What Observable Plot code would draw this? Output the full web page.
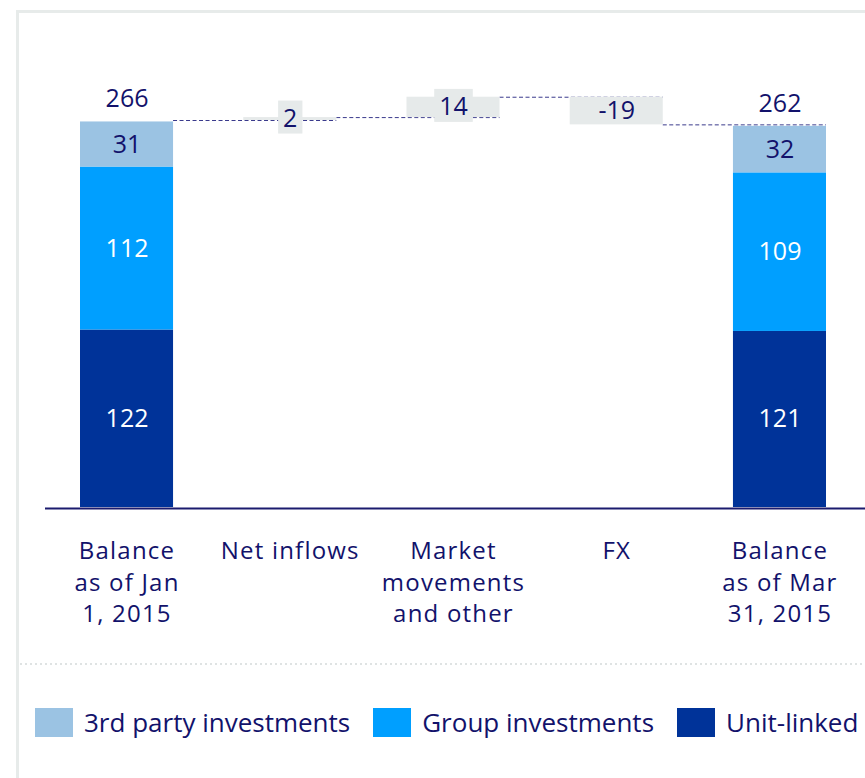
<!DOCTYPE html>
<html>
<head>
<meta charset="utf-8">
<script src="https://cdn.jsdelivr.net/npm/d3@7"></script>
<script src="https://cdn.jsdelivr.net/npm/@observablehq/plot@0.6"></script>
<style>
  body { margin: 0; background: #fff; font-family: "Open Sans", sans-serif; }
  #wrap { position: relative; width: 865px; height: 778px; overflow: hidden; }
  #frame { position: absolute; left: 16px; top: 10px; width: 900px; height: 800px;
           border-top: 3px solid #e7ebea; border-left: 3px solid #e7ebea; box-sizing: border-box; }
  #chart { position: absolute; left: 0; top: 0; }
  #dots { position: absolute; left: 20px; top: 663px; width: 850px; height: 2px;
          background-image: linear-gradient(to right, #dfe3e3 50%, transparent 50%);
          background-size: 5px 2px; }
  #legend { position: absolute; left: 35px; top: 704px; display: flex; align-items: center;
            font-family: "Open Sans", sans-serif; font-size: 26px; color: #12126b; white-space: nowrap; }
  .item { display: flex; align-items: center; margin-right: 23px; }
  .sw { width: 38px; height: 29px; margin-right: 11px; }
</style>
</head>
<body>
<div id="wrap">
  <div id="frame"></div>
  <div id="dots"></div>
  <div id="chart"></div>
  <div id="legend"></div>
</div>
<script>
// ---- data ----
const categories = [
  "Balance\nas of Jan\n1, 2015",
  "Net inflows",
  "Market\nmovements\nand other",
  "FX",
  "Balance\nas of Mar\n31, 2015"
];
const legendSeries = ["3rd party investments", "Group investments", "Unit-linked"];
const seriesColors = ["#9bc3e3", "#009fff", "#003399"];
const stackOrder = ["Unit-linked", "Group investments", "3rd party investments"];
const openingValues = [122, 112, 31];   // Jan 1, 2015 (bottom to top)
const closingValues = [121, 109, 32];   // Mar 31, 2015 (bottom to top)
const openingTotal = 266;
const closingTotal = 262;
const changeValues = [2, 14, -19];      // Net inflows, Market movements, FX
const boxThreshold = 15;                // show a grey label box for small changes

// ---- derived tables ----
function stackRows(cat, values) {
  let acc = 0;
  return stackOrder.map((s, i) => {
    const y1 = acc; acc += values[i];
    return {cat, series: s, y1, y2: acc, value: values[i]};
  });
}
const stacked = [
  ...stackRows(categories[0], openingValues),
  ...stackRows(categories[4], closingValues)
];
const totals = [
  {cat: categories[0], value: openingTotal},
  {cat: categories[4], value: closingTotal}
];
let running = openingTotal;
const floating = changeValues.map((d, i) => {
  const start = running; running += d;
  return {cat: categories[i + 1], start, end: running, mid: (start + running) / 2, delta: d,
          label: String(d)};
});
const levels = [openingTotal, ...floating.map(f => f.end)];
const connectors = levels.map((lv, i) => ({from: categories[i], to: categories[i + 1], level: lv}));

// ---- layout ----
const W = 865, H = 680;
const xRange = [80, 826];
const padInner = 0.43;
const step = (xRange[1] - xRange[0]) / (categories.length - padInner);
const bw = step * (1 - padInner);
const navy = "#12126b";
const font = "Open Sans, sans-serif";

const chart = Plot.plot({
  width: W,
  height: H,
  marginLeft: 45,
  marginRight: 0,
  marginTop: 0,
  marginBottom: 0,
  style: {fontFamily: font, background: "transparent", overflow: "visible"},
  x: {type: "band", domain: categories, range: xRange, paddingInner: padInner, paddingOuter: 0, round: false, axis: null},
  y: {domain: [0, openingTotal], range: [507, 120], axis: null},
  color: {domain: legendSeries, range: seriesColors},
  marks: [
    Plot.ruleY(connectors, {x1: "from", x2: "to", y: "level", insetLeft: bw,
      stroke: "#3a3a8c", strokeWidth: 1, strokeDasharray: "4,2.5"}),
    Plot.barY(stacked, {x: "cat", y1: "y1", y2: "y2", fill: "series"}),
    Plot.barY(floating, {x: "cat", y1: "start", y2: "end", fill: "#e6eaea"}),
    Plot.text(stacked, {x: "cat", y: d => (d.y1 + d.y2) / 2, text: d => String(d.value),
      fill: d => d.series === "3rd party investments" ? navy : "#ffffff",
      fontSize: 25, fontFamily: font}),
    Plot.text(totals, {x: "cat", y: "value", text: d => String(d.value), dy: -22,
      fill: navy, fontSize: 25, fontFamily: font}),
    Plot.text(floating.filter(f => Math.abs(f.delta) < boxThreshold),
      {x: "cat", y: "mid", text: "label", fill: navy, fontSize: 25, fontFamily: font,
       ariaDescription: "delta-boxed"}),
    Plot.text(floating.filter(f => Math.abs(f.delta) >= boxThreshold),
      {x: "cat", y: "mid", text: "label", fill: navy, fontSize: 25, fontFamily: font}),
    Plot.text(categories, {x: d => d, y: () => 0, text: d => d, lineAnchor: "top", dy: 29,
      lineHeight: 1.32, fill: navy, fontSize: 24, fontFamily: font,
      ariaDescription: "category-labels"}),
    Plot.ruleY([0], {stroke: "#1b1b6e", strokeWidth: 2, dy: 1})
  ]
});
document.getElementById("chart").appendChild(chart);

// wider tracking for category labels
chart.querySelectorAll('g[aria-description="category-labels"]').forEach(g => {
  g.setAttribute("letter-spacing", "1.2px");
});

// grey boxes behind small change labels
chart.querySelectorAll('g[aria-description="delta-boxed"] text').forEach(t => {
  const b = t.getBBox();
  const r = document.createElementNS("http://www.w3.org/2000/svg", "rect");
  const h = 33, padX = 5;
  r.setAttribute("x", b.x - padX);
  r.setAttribute("y", b.y + b.height / 2 - h / 2);
  r.setAttribute("width", b.width + 2 * padX);
  r.setAttribute("height", h);
  r.setAttribute("fill", "#e6eaea");
  const tr = t.getAttribute("transform");
  if (tr) r.setAttribute("transform", tr);
  t.parentNode.insertBefore(r, t);
});

// legend
const legend = document.getElementById("legend");
legendSeries.forEach((s, i) => {
  const item = document.createElement("div");
  item.className = "item";
  const sw = document.createElement("div");
  sw.className = "sw";
  sw.style.background = seriesColors[i];
  const label = document.createElement("span");
  label.textContent = s;
  item.appendChild(sw);
  item.appendChild(label);
  legend.appendChild(item);
});
</script>
</body>
</html>
